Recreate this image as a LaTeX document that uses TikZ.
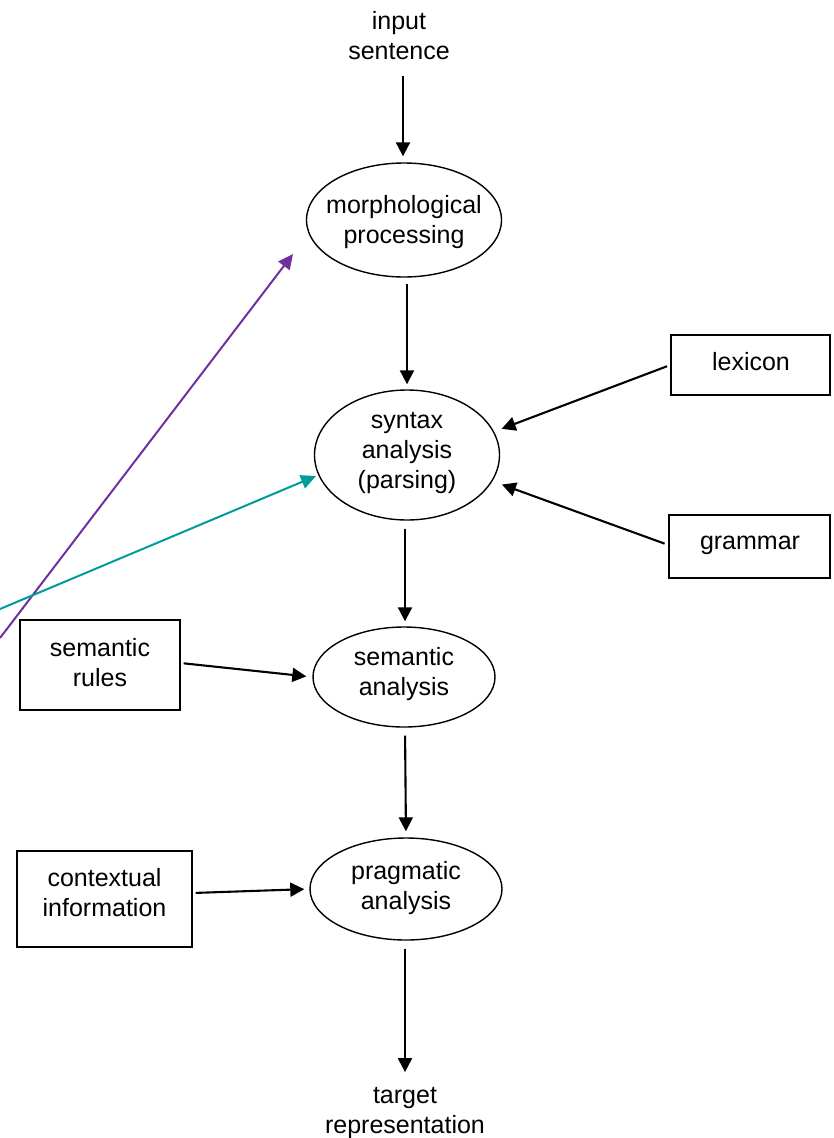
\documentclass[tikz,border=0pt]{standalone}
\usepackage{fontspec}
\setmainfont{Liberation Sans}
\usetikzlibrary{shapes.geometric,arrows.meta}
\definecolor{linkpurple}{HTML}{7030A0}
\definecolor{linkteal}{HTML}{009C99}
\begin{document}
\begin{tikzpicture}[x=1pt,y=-1pt,
  every node/.style={font=\fontsize{25}{30}\selectfont, align=center, inner sep=0pt},
  stage/.style={draw, ellipse, line width=1.4pt},
  resource/.style={draw, rectangle, line width=1.3pt},
  flow/.style={line width=2.1pt, -{Triangle[length=14pt,width=14pt]}},
  link/.style={line width=2pt, -{Triangle[length=15pt,width=14pt]}}
]
\useasboundingbox (0,0) rectangle (833,1138);

% pipeline stages
\node[stage, minimum width=195pt, minimum height=114pt] (morph) at (404,220) {};
\node (morphT) at (404,222) {morphological\\processing};
\node[stage, minimum width=185pt, minimum height=130pt] (syn) at (407,455) {};
\node (synT) at (407,453) {syntax\\analysis\\(parsing)};
\node[stage, minimum width=182pt, minimum height=100pt] (sem) at (404,677) {};
\node (semT) at (404,674) {semantic\\analysis};
\node[stage, minimum width=192pt, minimum height=102pt] (prag) at (406,889) {};
\node (pragT) at (406,888) {pragmatic\\analysis};

% input and output
\node (input) at (399,35.5) {input\\sentence};
\node (target) at (405,1113) {target\\representation};

% knowledge sources
\node[resource, minimum width=159pt, minimum height=60pt] (lex) at (750.5,365) {};
\node (lexT) at (751,362) {lexicon};
\node[resource, minimum width=161pt, minimum height=63pt] (gram) at (749.5,546.5) {};
\node (gramT) at (750,545) {grammar};
\node[resource, minimum width=160pt, minimum height=90pt] (rules) at (100,665) {};
\node (rulesT) at (100,663) {semantic\\rules};
\node[resource, minimum width=175pt, minimum height=96pt] (ctx) at (104.5,899) {};
\node (ctxT) at (104.5,893) {contextual\\information};

% main flow
\draw[flow, shorten <=16pt, shorten >=6pt] ([xshift=4pt]input.south) -- ([xshift=-1pt]morph.north);
\draw[flow, shorten <=6pt, shorten >=5pt] ([xshift=3pt]morph.south) -- (syn.north);
\draw[flow, shorten <=8pt, shorten >=5pt] ([xshift=-2pt]syn.south) -- ([xshift=1pt]sem.north);
\draw[flow, shorten <=8pt, shorten >=6pt] ([xshift=1pt]sem.south) -- (prag.north);
\draw[flow, shorten <=8pt, shorten >=15pt] ([xshift=-1pt]prag.south) -- (target.north);

% knowledge inputs
\draw[flow, shorten <=3.5pt, shorten >=8pt] (lex.west) -- (syn.15);
\draw[flow, shorten <=4pt, shorten >=10pt] ([yshift=1.5pt]gram.west) -- (syn.-17);
\draw[flow, shorten <=3pt, shorten >=6pt] ([yshift=2pt]rules.east) -- (sem.west);
\draw[flow, shorten <=3pt, shorten >=5pt] ([yshift=6pt]ctx.east) -- (prag.west);

% coloured pointers
\coordinate (pStart) at (0,638);
\coordinate (pEnd) at (293,254);
\coordinate (tStart) at (0,609);
\coordinate (tEnd) at (316,476);
\draw[link, linkpurple] (pStart) -- (pEnd);
\draw[link, linkteal] (tStart) -- (tEnd);
\end{tikzpicture}
\end{document}
